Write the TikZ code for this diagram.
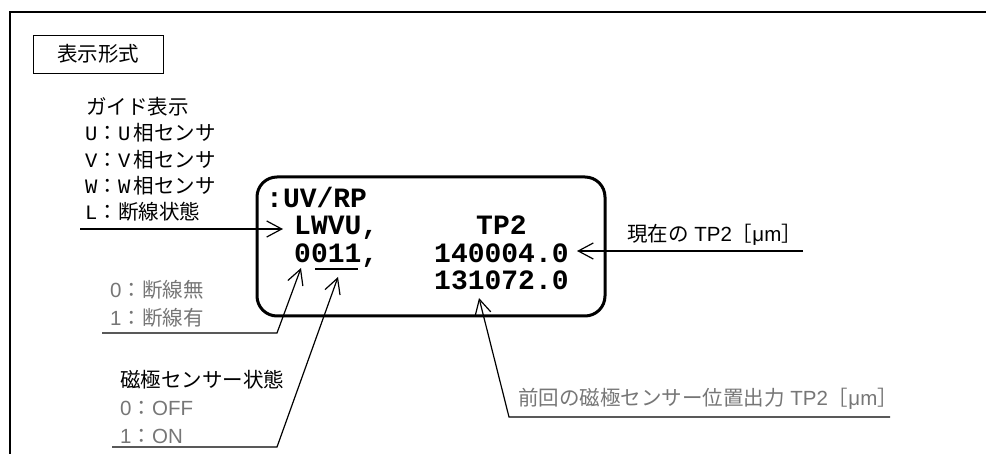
\documentclass[tikz,border=0pt]{standalone}
\usepackage{fontspec}
\setmainfont{Liberation Sans}
\newfontfamily\cjk{Noto Sans CJK JP}
\newfontfamily\lat{Liberation Sans}
\newfontfamily\mono{Liberation Mono}
\usetikzlibrary{arrows.meta}
\definecolor{txtgray}{RGB}{118,118,118}
\begin{document}
\begin{tikzpicture}[x=1pt,y=-1pt,
  lbl/.style={anchor=west, inner sep=0pt, font=\cjk\fontsize{20.5}{23}\selectfont},
  glbl/.style={lbl, text=txtgray},
  disp/.style={anchor=base west, inner sep=0pt, font=\mono\bfseries\fontsize{28}{30}\selectfont},
  lead/.style={line width=1.2pt},
  ptr/.style={lead, -{Straight Barb[length=15pt,width=16pt]}}]
\useasboundingbox (0,0) rectangle (986,454);
% outer frame (open at right and bottom)
\draw[line width=2pt] (10,454) -- (10,12) -- (986,12);
% title
\node[draw, line width=0.9pt, minimum width=130pt, minimum height=38pt, inner sep=0pt,
      font=\cjk\fontsize{20.5}{23}\selectfont] (title) at (98,54) {表示形式};
% guide labels
\node[lbl] (guide) at (86,107) {ガイド表示};
\node[lbl] (gu) at (85,133) {{\mono U}：{\mono U}\,相センサ};
\node[lbl] (gv) at (85,160) {{\mono V}：{\mono V}\,相センサ};
\node[lbl] (gw) at (85,186) {{\mono W}：{\mono W}\,相センサ};
\node[lbl] (gl) at (85,212) {{\mono L}：断線状態};
% display box
\node[draw, line width=3pt, rounded corners=20pt, minimum width=348pt, minimum height=139pt,
      inner sep=0pt] (box) at (431,246.5) {};
\node[disp] (l1) at (266,208) {:UV/RP};
\node[disp] (l2) at (294,235) {LWVU,};
\node[disp] (l3) at (294,262.5) {0011,};
\node[disp] (tp) at (476,235) {TP2};
\node[disp] (cur) at (434,262.5) {140004.0};
\node[disp] (prev) at (434,290) {131072.0};
\coordinate (ula) at (315,269);
\coordinate (ulb) at (358,269);
\draw[lead] (ula) -- (ulb);
% left leaders
\coordinate (Lst) at (80,229);
\coordinate (Ltip) at (283,229);
\draw[ptr] (Lst) -- (Ltip);
\node[glbl] (d0) at (110,290) {{\lat 0}：断線無};
\node[glbl] (d1) at (110,318) {{\lat 1}：断線有};
\coordinate (dA) at (102,333);
\coordinate (dB) at (277,333);
\coordinate (dTip) at (301,268);
\draw[ptr] (dA) -- (dB) -- (dTip);
\node[lbl] (mag) at (120,380) {磁極センサー状態};
\node[glbl] (m0) at (120,408) {{\lat 0}：{\lat OFF}};
\node[glbl] (m1) at (120,436) {{\lat 1}：{\lat ON}};
\coordinate (mA) at (112,447);
\coordinate (mB) at (277,447);
\coordinate (mTip) at (338,277);
\draw[ptr] (mA) -- (mB) -- (mTip);
% right leaders
\node[lbl] (curl) at (627,235) {現在の{\lat\ TP2}［{\lat μm}］};
\coordinate (cA) at (803,251);
\coordinate (cTip) at (577,251);
\draw[ptr] (cA) -- (cTip);
\node[glbl] (prevl) at (518,399) {前回の磁極センサー位置出力{\lat\ TP2}［{\lat μm}］};
\coordinate (pA) at (890,417);
\coordinate (pB) at (509,417);
\coordinate (pTip) at (479,298);
\draw[ptr] (pA) -- (pB) -- (pTip);
\end{tikzpicture}
\end{document}
